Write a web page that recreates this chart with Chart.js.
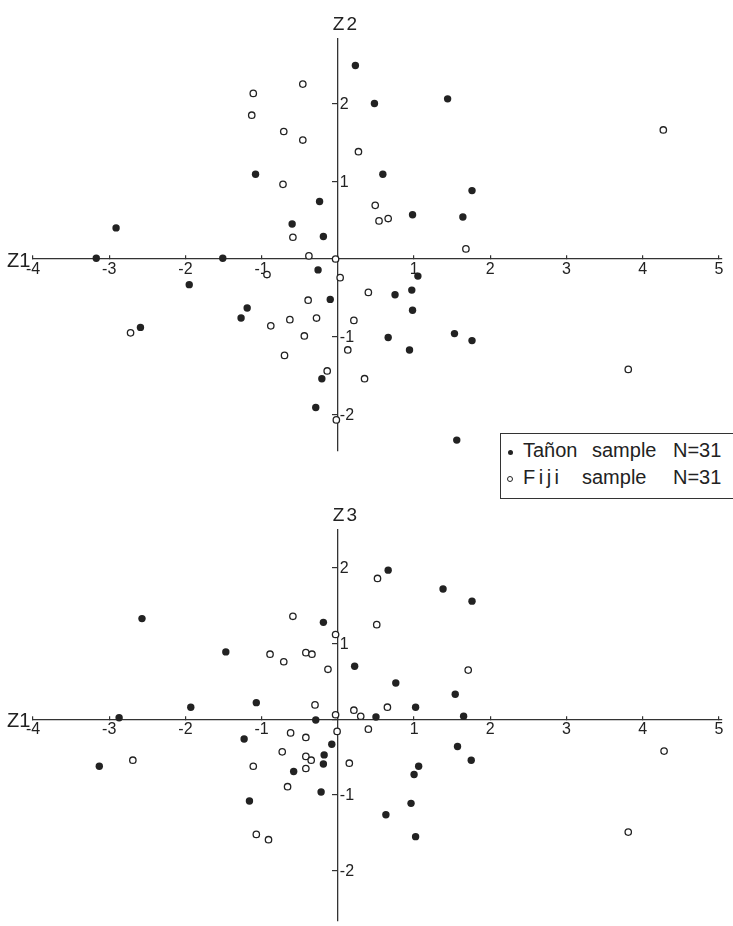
<!DOCTYPE html>
<html>
<head>
<meta charset="utf-8">
<script src="https://cdn.jsdelivr.net/npm/chart.js@4.4.0/dist/chart.umd.min.js"></script>
<style>
  body { margin: 0; background: #fff; width: 733px; height: 926px; position: relative; overflow: hidden;
         font-family: "Liberation Sans", Arial, sans-serif; }
  canvas { position: absolute; left: 0; }
  #graficoZ2 { top: 0; }
  #graficoZ3 { top: 466px; }
  #legenda { position: absolute; left: 500px; top: 433px; width: 245px; height: 64px;
             border: 1.3px solid #333; background: #fff; color: #222; font-size: 20px; }
  #legenda span { position: absolute; height: 24px; line-height: 24px; white-space: nowrap; }
  .ponto { position: absolute; border-radius: 50%; box-sizing: border-box; }
</style>
</head>
<body>
<canvas id="graficoZ2" width="733" height="466"></canvas>
<canvas id="graficoZ3" width="733" height="460"></canvas>
<div id="legenda">
  <div class="ponto" style="left:7px; top:16px; width:5px; height:5px; background:#222;"></div>
  <span style="left:22px; top:4px;">Tañon</span>
  <span style="left:91px; top:4px;">sample</span>
  <span style="left:172px; top:4px;">N=31</span>
  <div class="ponto" style="left:6px; top:42px; width:6px; height:6px; border:1.2px solid #222;"></div>
  <span style="left:22px; top:31px; letter-spacing:3.5px;">Fiji</span>
  <span style="left:81px; top:31px;">sample</span>
  <span style="left:172px; top:31px;">N=31</span>
</div>
<script>
// eixos
var xTicks = [-4, -3, -2, -1, 0, 1, 2, 3, 4, 5];
var yTicks = [-2, -1, 0, 1, 2];

// Z1 x Z2 - Tañon
var tanonZ1a = [-3.17, -2.91, -2.59, -1.95, -1.51, -1.27, -1.19, -1.08, -0.60, -0.29, -0.26, -0.24, -0.21, -0.19, -0.10,
                0.23, 0.48, 0.59, 0.66, 0.75, 0.94, 0.97, 0.98, 0.98, 1.05, 1.44, 1.53, 1.56, 1.64, 1.76, 1.76];
var tanonZ2 = [0.01, 0.40, -0.88, -0.33, 0.01, -0.76, -0.63, 1.09, 0.45, -1.91, -0.14, 0.74, -1.54, 0.29, -0.52,
               2.49, 2.00, 1.09, -1.01, -0.46, -1.17, -0.40, 0.57, -0.66, -0.22, 2.06, -0.96, -2.33, 0.54, 0.88, -1.05];
// Z1 x Z2 - Fiji
var fijiZ1a = [-2.72, -1.13, -1.11, -0.93, -0.88, -0.72, -0.71, -0.70, -0.63, -0.59, -0.46, -0.46, -0.44, -0.39, -0.38, -0.28,
               -0.14, -0.03, -0.02, 0.03, 0.13, 0.21, 0.27, 0.35, 0.40, 0.49, 0.54, 0.66, 1.68, 3.81, 4.27];
var fijiZ2 = [-0.95, 1.85, 2.13, -0.20, -0.86, 0.96, 1.64, -1.24, -0.78, 0.28, 2.25, 1.53, -0.99, -0.53, 0.04, -0.76,
              -1.44, 0.00, -2.07, -0.24, -1.17, -0.79, 1.38, -1.54, -0.43, 0.69, 0.49, 0.52, 0.13, -1.42, 1.66];

// Z1 x Z3 - Tañon
var tanonZ1b = [-3.13, -2.87, -2.57, -1.93, -1.47, -1.23, -1.16, -1.07, -0.58, -0.29, -0.22, -0.19, -0.18, -0.19, -0.08,
                0.22, 0.50, 0.66, 0.63, 0.76, 0.96, 1.00, 1.02, 1.02, 1.06, 1.38, 1.54, 1.57, 1.65, 1.75, 1.76];
var tanonZ3 = [-0.62, 0.02, 1.33, 0.16, 0.89, -0.26, -1.08, 0.22, -0.69, -0.01, -0.96, 1.28, -0.47, -0.59, -0.33,
               0.70, 0.03, 1.97, -1.26, 0.48, -1.11, -0.73, 0.16, -1.55, -0.62, 1.72, 0.33, -0.36, 0.04, -0.54, 1.56];
// Z1 x Z3 - Fiji
var fijiZ1b = [-2.69, -1.11, -1.07, -0.91, -0.89, -0.73, -0.71, -0.66, -0.62, -0.59, -0.42, -0.42, -0.42, -0.42, -0.35, -0.34,
               -0.30, -0.13, -0.03, -0.03, -0.01, 0.15, 0.21, 0.30, 0.40, 0.51, 0.52, 0.65, 1.71, 3.81, 4.28];
var fijiZ3 = [-0.54, -0.62, -1.52, -1.59, 0.86, -0.43, 0.76, -0.89, -0.18, 1.36, 0.88, -0.24, -0.49, -0.65, -0.54, 0.86,
              0.19, 0.66, 1.12, 0.06, -0.16, -0.58, 0.12, 0.04, -0.13, 1.25, 1.86, 0.16, 0.65, -1.49, -0.42];

var tinta = '#222';
var corEixo = '#333';
var fonte = '"Liberation Sans", Arial, sans-serif';

function pares(xs, ys) {
    return xs.map(function (x, i) { return { x: x, y: ys[i] }; });
}

function textosEixos(nomeY) {
    return {
        id: 'textosEixos',
        afterDraw: function (chart) {
            var ctx = chart.ctx;
            var x0 = chart.scales.x.getPixelForValue(0);
            var y0 = chart.scales.y.getPixelForValue(0);
            ctx.save();
            ctx.fillStyle = tinta;
            ctx.textAlign = 'left';
            ctx.textBaseline = 'middle';
            ctx.font = '16px ' + fonte;
            chart.scales.y.ticks.forEach(function (t) {
                if (t.value !== 0) ctx.fillText(String(t.value), x0 + 2, chart.scales.y.getPixelForValue(t.value) + 1);
            });
            ctx.font = '20px ' + fonte;
            ctx.fillText('Z1', 7, y0 + 2);
            ctx.font = '19px ' + fonte;
            if ('letterSpacing' in ctx) ctx.letterSpacing = '2px';
            ctx.fillText(nomeY, x0 - 5, chart.chartArea.top - 14);
            ctx.restore();
        }
    };
}

function criarGrafico(canvas, tx, ty, fx, fy, yMin, yMax, padding, nomeY) {
    return new Chart(document.getElementById(canvas), {
        type: 'scatter',
        data: {
            datasets: [{
                label: 'Fiji sample N=31',
                data: pares(fx, fy),
                pointRadius: 3.2,
                backgroundColor: '#fff',
                borderColor: tinta,
                borderWidth: 1.3
            },
            {
                label: 'Tañon sample N=31',
                data: pares(tx, ty),
                pointRadius: 3.7,
                backgroundColor: tinta,
                borderColor: tinta,
                borderWidth: 0
            }]
        },
        options: {
            responsive: false,
            animation: false,
            devicePixelRatio: 1,
            layout: { padding: padding },
            plugins: {
                legend: { display: false },
                tooltip: { enabled: false }
            },
            scales: {
                x: {
                    type: 'linear',
                    min: -4,
                    max: 5.04,
                    position: { y: 0 },
                    afterBuildTicks: function (s) { s.ticks = xTicks.map(function (v) { return { value: v }; }); },
                    ticks: {
                        callback: function (v) { return v === 0 ? '' : String(v); },
                        font: { size: 16, family: fonte },
                        color: tinta,
                        padding: 5,
                        autoSkip: false,
                        maxRotation: 0
                    },
                    grid: { drawOnChartArea: false, tickLength: -4, color: corEixo, lineWidth: 1.2 },
                    border: { color: corEixo, width: 1.3 }
                },
                y: {
                    type: 'linear',
                    min: yMin,
                    max: yMax,
                    position: { x: 0 },
                    afterBuildTicks: function (s) { s.ticks = yTicks.map(function (v) { return { value: v }; }); },
                    ticks: { display: false },
                    grid: { drawOnChartArea: false, tickLength: 5, color: corEixo, lineWidth: 1.2 },
                    border: { color: corEixo, width: 1.3 }
                }
            }
        },
        plugins: [textosEixos(nomeY)]
    });
}

criarGrafico('graficoZ2', tanonZ1a, tanonZ2, fijiZ1a, fijiZ2, -2.47, 2.83,
    { left: 33, right: 11, top: 39, bottom: 15 }, 'Z2');
criarGrafico('graficoZ3', tanonZ1b, tanonZ3, fijiZ1b, fijiZ3, -2.66, 2.50,
    { left: 33, right: 11, top: 64, bottom: 0 }, 'Z3');
</script>
</body>
</html>
